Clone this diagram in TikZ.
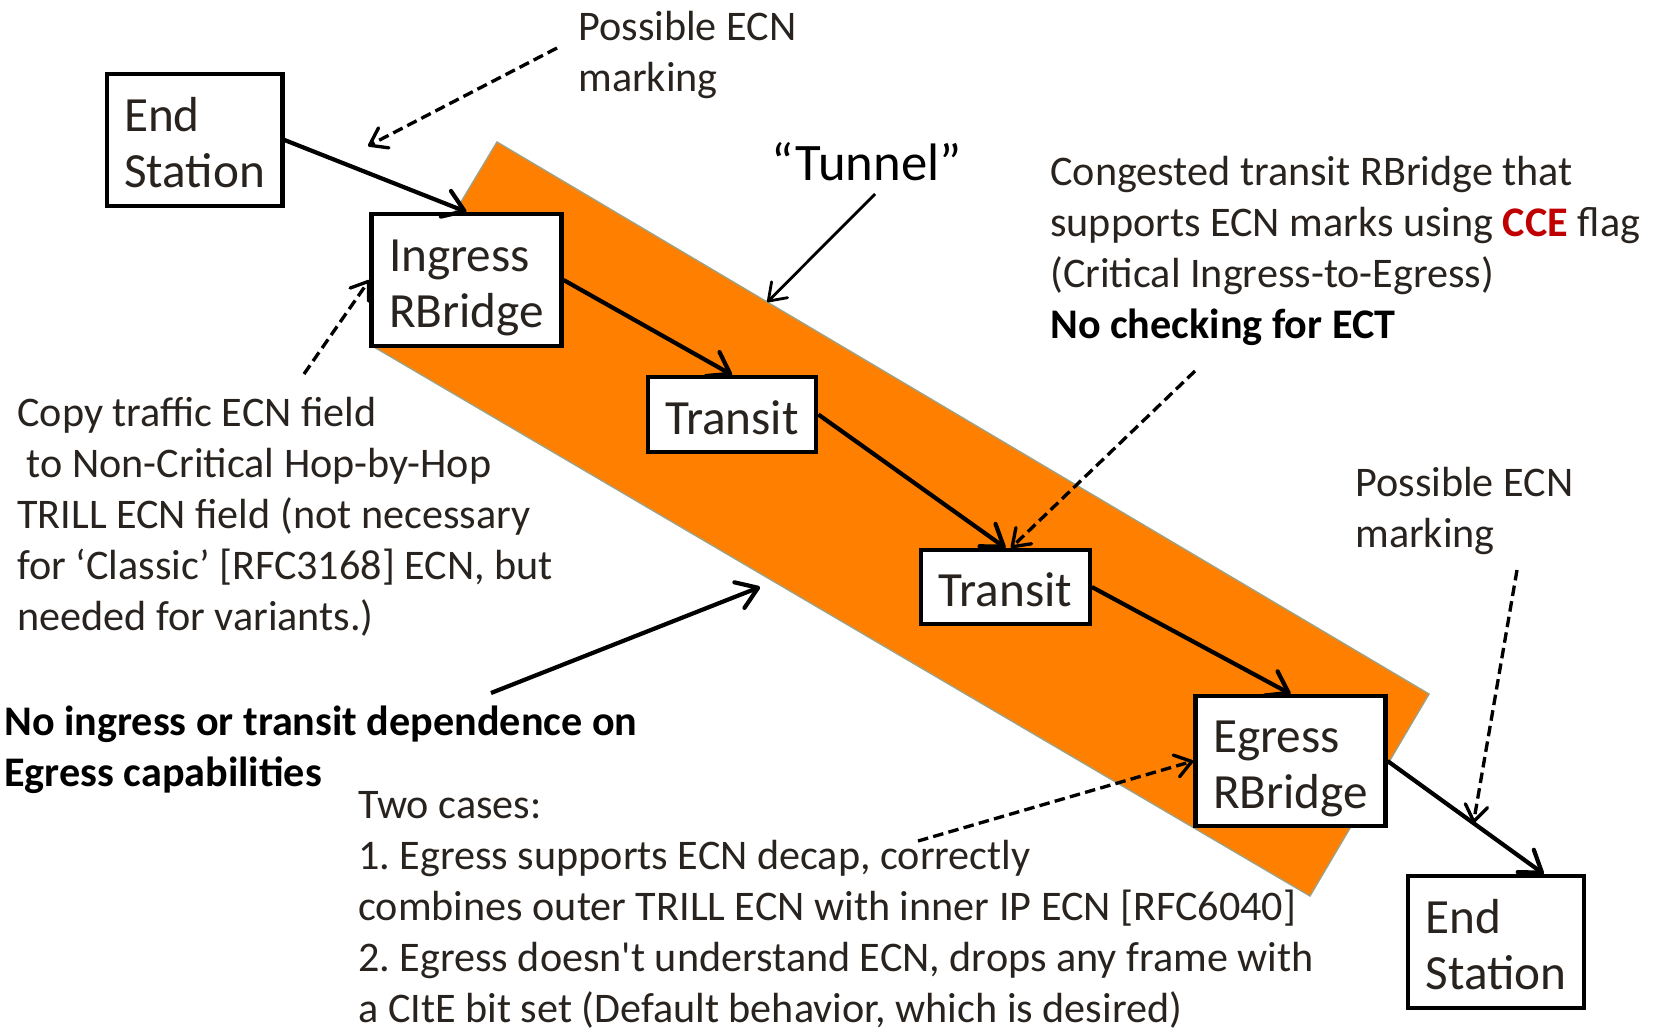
\documentclass[tikz,border=0pt]{standalone}
\usepackage{fontspec}
\setmainfont{Carlito}[Ligatures=TeXOff]
\usetikzlibrary{arrows.meta, calc}

\definecolor{tunnelorange}{RGB}{255,128,0}
\definecolor{ink}{RGB}{40,35,30}
\definecolor{ccered}{RGB}{192,0,0}
\definecolor{bandedge}{RGB}{160,160,130}

\frenchspacing
\begin{document}
\begin{tikzpicture}[
  x=0.02cm, y=-0.02cm,
  box/.style={draw, line width=2.4pt, fill=white, align=left,
              inner xsep=0.35cm, text=ink, font=\fontsize{28}{32}\selectfont,
              text height=54.4pt, text depth=0pt},
  onebox/.style={box, text height=22.4pt},
  note/.style={anchor=base west, align=left, inner sep=0pt, text=ink,
               font=\fontsize{24}{29}\selectfont},
  arr/.style={-{Straight Barb[length=0.4cm, width=0.55cm, round]}, line width=2.4pt},
  thinarr/.style={-{Straight Barb[length=0.32cm, width=0.45cm, round]}, line width=1.6pt},
  dasharr/.style={thinarr, line width=1.9pt, dash pattern=on 6pt off 3pt}
]
  \useasboundingbox (0,0) rectangle (1663,1032);

  % the tunnel band
  \coordinate (bandN) at (497,142);
  \coordinate (bandE) at (1429,694);
  \coordinate (bandS) at (1310,896);
  \coordinate (bandW) at (374,347);
  \filldraw[fill=tunnelorange, draw=bandedge, line width=0.8pt]
    (bandN) -- (bandE) -- (bandS) -- (bandW) -- cycle;

  % RBridges and end stations
  \node[box, minimum width=3.46cm, minimum height=2.64cm] (es1) at (194.5,140) {End\\Station};
  \node[box, minimum width=3.74cm, minimum height=2.64cm] (ing) at (466.5,280) {Ingress\\RBridge};
  \node[onebox, minimum width=3.32cm, minimum height=1.5cm] (tr1) at (732,414.5) {Transit};
  \node[onebox, minimum width=3.3cm, minimum height=1.48cm] (tr2) at (1005.5,587) {Transit};
  \node[box, minimum width=3.74cm, minimum height=2.6cm] (eg) at (1290.5,761) {Egress\\RBridge};
  \node[box, minimum width=3.48cm, minimum height=2.64cm] (es2) at (1496,942) {End\\Station};

  \draw[arr] (es1.east) -- (ing.north);
  \draw[arr] (ing.east) -- (tr1.north);
  \draw[arr] (tr1.east) -- (tr2.north);
  \draw[arr] (tr2.east) -- (eg.north);
  \draw[arr] (eg.east) -- (es2.55);

  % notes (placed by the baseline of their last line)
  \node[note] (pecn1) at (578,91) {Possible ECN\\marking};
  \node[note, text=black, font=\fontsize{30}{36}\selectfont] (tunnel) at (771,180) {“Tunnel”};
  \node[note] (cong) at (1050,338)
       {Congested transit RBridge that\\supports ECN marks using \textcolor{ccered}{\textbf{CCE}} flag\\(Critical Ingress-to-Egress)\\\textcolor{black}{\textbf{No checking for ECT}}};
  \node[note] (copy) at (17,630)
       {Copy traffic ECN field\\\ to Non-Critical Hop-by-Hop\\TRILL ECN field (not necessary\\for ‘Classic’ [RFC3168] ECN, but\\needed for variants.)};
  \node[note, text=black, font=\bfseries\fontsize{24}{29}\selectfont] (noing) at (4,786)
       {No ingress or transit dependence on\\Egress capabilities};
  \node[note] (pecn2) at (1355,547) {Possible ECN\\marking};
  \node[note] (cases) at (358,1022)
       {Two cases:\\1. Egress supports ECN decap, correctly\\combines outer TRILL ECN with inner IP ECN [RFC6040]\\2. Egress doesn't understand ECN, drops any frame with\\a CItE bit set (Default behavior, which is desired)};

  % callout ends
  \coordinate (pecn1tail) at (557,48);
  \coordinate (pecn1head) at (368,146);
  \coordinate (copytail) at (304,374);
  \coordinate (tuntail) at (875,194);
  \coordinate (tunhead) at ($(bandN)!0.29!(bandE)$);
  \coordinate (congtail) at (1195,371);
  \coordinate (pecn2tail) at (1517,570);
  \coordinate (pecn2head) at ($(eg.east)!0.55!(es2.55)$);
  \coordinate (casestail) at (918,841);
  \coordinate (noingtail) at (491,693);
  \coordinate (noinghead) at (760,587);

  \draw[dasharr] (pecn1tail) -- (pecn1head);
  \draw[dasharr] (copytail) -- (ing.west);
  \draw[thinarr] (tuntail) -- (tunhead);
  \draw[dasharr] (congtail) -- (tr2.82);
  \draw[dasharr] (pecn2tail) -- (pecn2head);
  \draw[dasharr] (casestail) -- (eg.west);
  \draw[arr] (noingtail) -- (noinghead);
\end{tikzpicture}
\end{document}
